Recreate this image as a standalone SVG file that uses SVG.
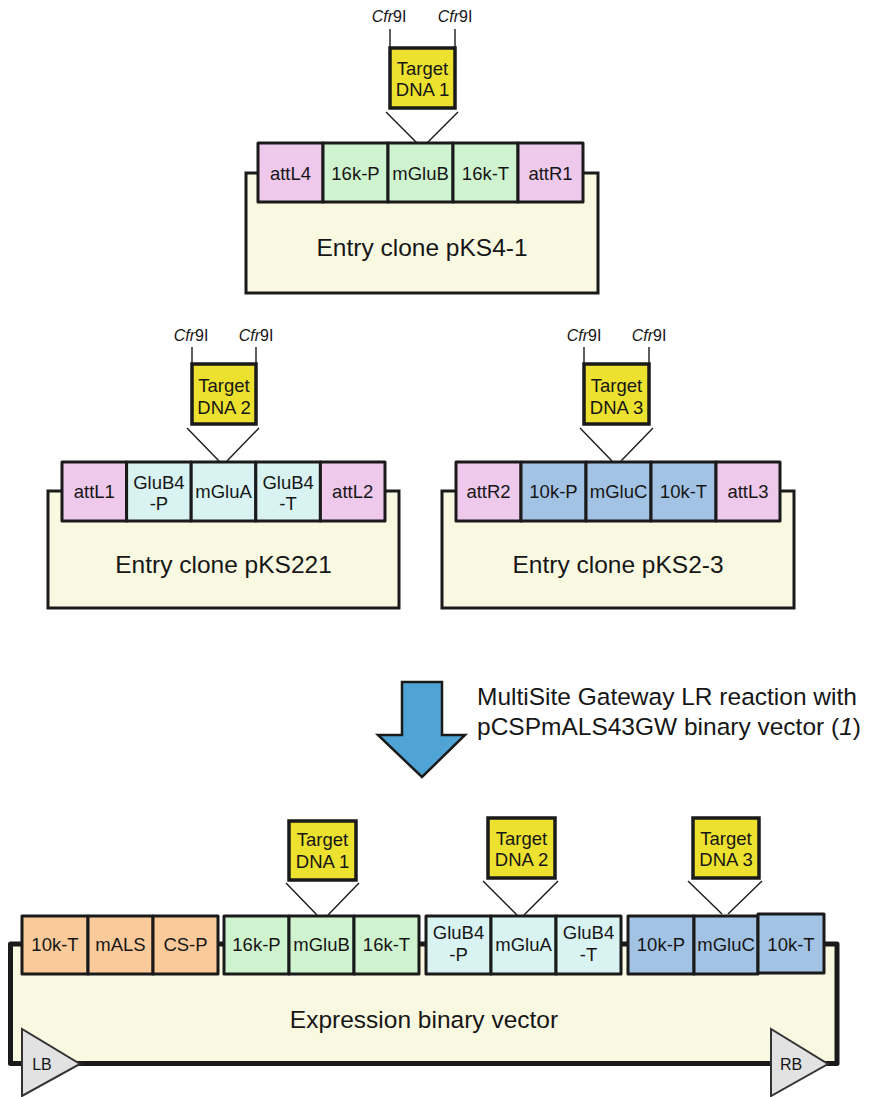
<svg xmlns="http://www.w3.org/2000/svg" width="869" height="1097" viewBox="0 0 869 1097">
<defs>
<style>
text{font-family:"Liberation Sans",Arial,sans-serif;fill:#161616}
.c{stroke:#1a1a1a;stroke-width:3;stroke-linejoin:round}
.pk{fill:#efc9ec}.gr{fill:#cff3cf}.cy{fill:#d8f3f2}.bl{fill:#a3c3e5}.or{fill:#fbca9a}
.yl{fill:#ece12e;stroke:#1a1a1a;stroke-width:3.5}
.body{fill:#f9f9e2;stroke:#1a1a1a;stroke-width:3}
.ln{stroke:#1a1a1a;stroke-width:1.4;fill:none}
.t{font-size:18.5px;text-anchor:middle}
.big{font-size:24.5px;text-anchor:middle}
.cf{font-size:16px;text-anchor:middle}
.tri{fill:#e2e2e2;stroke:#333;stroke-width:2}
</style>
</defs>

<!-- Entry clone pKS4-1 -->
<g id="clone1">
<rect class="body" x="246" y="173" width="352" height="120"/>
<rect class="c pk" x="258" y="143" width="65" height="59"/>
<rect class="c gr" x="323" y="143" width="65" height="59"/>
<rect class="c gr" x="388" y="143" width="65" height="59"/>
<rect class="c gr" x="453" y="143" width="65" height="59"/>
<rect class="c pk" x="518" y="143" width="65" height="59"/>
<text class="t" x="290.5" y="180">attL4</text>
<text class="t" x="355.5" y="180">16k-P</text>
<text class="t" x="420.5" y="180">mGluB</text>
<text class="t" x="485.5" y="180">16k-T</text>
<text class="t" x="550.5" y="180">attR1</text>
<text class="big" x="422" y="256">Entry clone pKS4-1</text>
</g>
<g id="target1">
<text class="cf" x="389" y="22"><tspan font-style="italic">Cfr</tspan>9I</text>
<text class="cf" x="455" y="22"><tspan font-style="italic">Cfr</tspan>9I</text>
<line class="ln" x1="390" y1="29" x2="390" y2="48"/>
<line class="ln" x1="455" y1="29" x2="455" y2="48"/>
<rect class="yl" x="390" y="48" width="65" height="60"/>
<text class="t" x="422.5" y="74.5">Target</text>
<text class="t" x="422.5" y="96">DNA 1</text>
</g>

<!-- Entry clone pKS221 -->
<g id="clone2">
<rect class="body" x="48" y="491" width="351" height="117"/>
<rect class="c pk" x="62" y="462" width="64.6" height="59"/>
<rect class="c cy" x="126.6" y="462" width="64.6" height="59"/>
<rect class="c cy" x="191.2" y="462" width="64.6" height="59"/>
<rect class="c cy" x="255.8" y="462" width="64.6" height="59"/>
<rect class="c pk" x="320.4" y="462" width="64.6" height="59"/>
<text class="t" x="94.3" y="498">attL1</text>
<text class="t" x="158.9" y="488.5">GluB4</text>
<text class="t" x="158.9" y="510">-P</text>
<text class="t" x="223.5" y="498">mGluA</text>
<text class="t" x="288.1" y="488.5">GluB4</text>
<text class="t" x="288.1" y="510">-T</text>
<text class="t" x="352.7" y="498">attL2</text>
<text class="big" x="223.5" y="573">Entry clone pKS221</text>
</g>
<g id="target2">
<text class="cf" x="191" y="341"><tspan font-style="italic">Cfr</tspan>9I</text>
<text class="cf" x="256" y="341"><tspan font-style="italic">Cfr</tspan>9I</text>
<line class="ln" x1="192" y1="347" x2="192" y2="364"/>
<line class="ln" x1="256" y1="347" x2="256" y2="364"/>
<rect class="yl" x="192" y="364" width="64" height="60"/>
<text class="t" x="224" y="391.5">Target</text>
<text class="t" x="224" y="413.5">DNA 2</text>
</g>

<!-- Entry clone pKS2-3 -->
<g id="clone3">
<rect class="body" x="442" y="491" width="352" height="117"/>
<rect class="c pk" x="456" y="462" width="65" height="59"/>
<rect class="c bl" x="521" y="462" width="65" height="59"/>
<rect class="c bl" x="586" y="462" width="65" height="59"/>
<rect class="c bl" x="651" y="462" width="65" height="59"/>
<rect class="c pk" x="716" y="462" width="64" height="59"/>
<text class="t" x="488.5" y="498">attR2</text>
<text class="t" x="553.5" y="498">10k-P</text>
<text class="t" x="618.5" y="498">mGluC</text>
<text class="t" x="683.5" y="498">10k-T</text>
<text class="t" x="748" y="498">attL3</text>
<text class="big" x="618" y="573">Entry clone pKS2-3</text>
</g>
<g id="target3">
<text class="cf" x="584" y="341"><tspan font-style="italic">Cfr</tspan>9I</text>
<text class="cf" x="649" y="341"><tspan font-style="italic">Cfr</tspan>9I</text>
<line class="ln" x1="584" y1="347" x2="584" y2="364"/>
<line class="ln" x1="649" y1="347" x2="649" y2="364"/>
<rect class="yl" x="584" y="364" width="65" height="60"/>
<text class="t" x="616.5" y="391.5">Target</text>
<text class="t" x="616.5" y="413.5">DNA 3</text>
</g>

<!-- Reaction arrow -->
<g id="reaction">
<path d="M402,682 H442 V735 H465 L422,777 L378,735 H402 Z" fill="#4fa4d5" stroke="#1a1a1a" stroke-width="2.5" stroke-linejoin="miter"/>
<text x="477" y="705" font-size="24.5px">MultiSite Gateway LR reaction with</text>
<text x="477" y="735" font-size="24.5px">pCSPmALS43GW binary vector (<tspan font-style="italic">1</tspan>)</text>
</g>

<!-- Expression binary vector -->
<g id="expression">
<rect x="10.5" y="944" width="826.5" height="119.5" fill="#f9f9e2" stroke="#1a1a1a" stroke-width="5" stroke-linejoin="round"/>
<rect class="c or" x="22" y="916" width="66" height="58"/>
<rect class="c or" x="88" y="916" width="65" height="58"/>
<rect class="c or" x="153" y="916" width="65" height="58"/>
<rect class="c gr" x="224" y="916" width="65" height="58"/>
<rect class="c gr" x="289" y="916" width="65" height="58"/>
<rect class="c gr" x="354" y="916" width="65" height="58"/>
<rect class="c cy" x="426" y="916" width="65" height="58"/>
<rect class="c cy" x="491" y="916" width="65" height="58"/>
<rect class="c cy" x="556" y="916" width="65" height="58"/>
<rect class="c bl" x="628" y="916" width="66" height="58"/>
<rect class="c bl" x="694" y="916" width="64" height="58"/>
<rect class="c bl" x="758" y="914" width="66" height="59"/>
<text class="t" x="55" y="951">10k-T</text>
<text class="t" x="120.5" y="951">mALS</text>
<text class="t" x="185.5" y="951">CS-P</text>
<text class="t" x="256.5" y="951">16k-P</text>
<text class="t" x="321.5" y="951">mGluB</text>
<text class="t" x="386.5" y="951">16k-T</text>
<text class="t" x="458.5" y="939">GluB4</text>
<text class="t" x="458.5" y="961">-P</text>
<text class="t" x="523.5" y="951">mGluA</text>
<text class="t" x="588.5" y="939">GluB4</text>
<text class="t" x="588.5" y="961">-T</text>
<text class="t" x="661" y="951">10k-P</text>
<text class="t" x="726" y="951">mGluC</text>
<text class="t" x="791" y="951">10k-T</text>
<text class="big" x="424" y="1028">Expression binary vector</text>
<polygon class="tri" points="22,1029 22,1096 80,1064"/>
<text x="42" y="1070" font-size="16px" text-anchor="middle">LB</text>
<polygon class="tri" points="771,1029 771,1096 828,1064"/>
<text x="791" y="1070" font-size="16px" text-anchor="middle">RB</text>
</g>

<g id="insert1">
<rect class="yl" x="289" y="821" width="67" height="59"/>
<text class="t" x="322.5" y="845.5">Target</text>
<text class="t" x="322.5" y="867.5">DNA 1</text>
</g>
<g id="insert2">
<rect class="yl" x="488" y="818" width="67" height="60"/>
<text class="t" x="521.5" y="844.5">Target</text>
<text class="t" x="521.5" y="866">DNA 2</text>
</g>
<g id="insert3">
<rect class="yl" x="693" y="818" width="66" height="60"/>
<text class="t" x="726" y="844.5">Target</text>
<text class="t" x="726" y="866">DNA 3</text>
</g>

<!-- connectors -->
<g id="connectors" class="ln">
<polyline points="386,112 417,143"/>
<polyline points="458,112 427,143"/>
<polyline points="187,428 219,461"/>
<polyline points="259,428 227,461"/>
<polyline points="580,428 612,461"/>
<polyline points="653,428 621,461"/>
<polyline points="286,883 317,915"/>
<polyline points="359,883 328,915"/>
<polyline points="483,881 517,915"/>
<polyline points="558,881 524,915"/>
<polyline points="688,881 722,914"/>
<polyline points="762,881 728,914"/>
</g>
</svg>
